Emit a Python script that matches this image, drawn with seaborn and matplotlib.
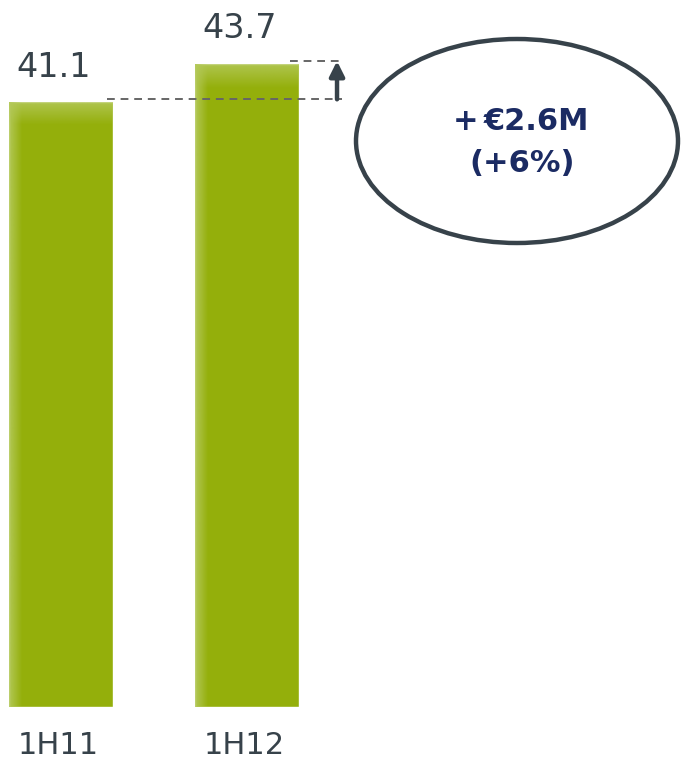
import numpy as np
import matplotlib
matplotlib.use("Agg")
import matplotlib.pyplot as plt
import matplotlib.patches as mpatches
import matplotlib.transforms as mtransforms
import seaborn as sns

categories = ["1H11", "1H12"]
values = [41.1, 43.7]
value_labels = ["41.1", "43.7"]
change_text = ["+€2.6M", "(+6%)"]

BAR = "#94AF0B"
LIGHT = "#B4C95A"
DARK = "#37424A"
NAVY = "#1B2B63"

sns.set_theme(style="white")
plt.rcParams["font.family"] = ["DejaVu Sans"]

W, H = 682, 762
fig = plt.figure(figsize=(W / 100, H / 100), dpi=100)
fig.patch.set_facecolor("white")

# faint background diagonals
fig.add_artist(plt.Line2D([700 / W, 1.05], [0.0, 420 / H], transform=fig.transFigure,
                          color="#F7F7F7", lw=8, zorder=0))
fig.add_artist(plt.Line2D([1080 / W, 1.25], [0.0, 260 / H], transform=fig.transFigure,
                          color="#F7F7F7", lw=8, zorder=0))

ax = fig.add_axes([0, 55 / H, 1, 707 / H])
ax.set_facecolor("none")
bar_w = 104 / 186
sns.barplot(x=categories, y=values, color=BAR, saturation=1, width=bar_w, ax=ax, zorder=2)
ax.set_xlim(-61 / 186, 1 + 435 / 186)
ax.set_ylim(0, 707 / ((707 - 64) / values[1]))
for s in ax.spines.values():
    s.set_visible(False)
ax.set_yticks([])
ax.set_xlabel("")
ax.set_ylabel("")
ax.tick_params(axis="x", length=0, pad=17, labelsize=22, labelcolor=DARK)
shift = mtransforms.ScaledTranslation(-3 / 100, 0, fig.dpi_scale_trans)
for t in ax.get_xticklabels():
    t.set_transform(t.get_transform() + shift)

# soft lighter edges on bars (left and top)
grad = np.linspace(0, 1, 60)
for p in ax.patches:
    x, y = p.get_x(), p.get_y()
    w, h = p.get_width(), p.get_height()
    img = np.zeros((1, 60, 4))
    img[..., :3] = matplotlib.colors.to_rgb(LIGHT)
    img[..., 3] = np.clip(1 - grad / 0.12, 0, 1)[None, :] * 0.9
    im = ax.imshow(img, extent=[x, x + w, y, y + h], aspect="auto", zorder=3,
                   interpolation="bilinear")
    im.set_clip_path(p)
    vgrad = np.linspace(0, 1, 200)
    img2 = np.zeros((200, 1, 4))
    img2[..., :3] = matplotlib.colors.to_rgb(LIGHT)
    img2[:, 0, 3] = np.clip(1 - vgrad / 0.035, 0, 1) * 0.8
    im2 = ax.imshow(img2, extent=[x, x + w, y, y + h], aspect="auto", zorder=3,
                    interpolation="bilinear", origin="upper")
    im2.set_clip_path(p)

# value labels
for i, (v, lab) in enumerate(zip(values, value_labels)):
    ax.annotate(lab, xy=(i, v), xytext=(-5.5, 13.5), textcoords="offset points",
                ha="center", va="bottom", fontsize=24, color=DARK)

# dashed reference lines
ax.plot([bar_w / 2 - 0.03, 1.51], [values[0] + 0.2] * 2, ls=(0, (4, 3)), color="#666666",
        lw=1.4, zorder=4)
ax.plot([1 + bar_w / 2 - 0.05, 1.51], [values[1] + 0.2] * 2, ls=(0, (4, 3)), color="#666666",
        lw=1.4, zorder=4)
ax.annotate("", xy=(1.484, values[1] + 0.2), xytext=(1.484, values[0] + 0.2),
            arrowprops=dict(arrowstyle="-|>", lw=3.2, color=DARK, mutation_scale=22,
                            shrinkA=0, shrinkB=0), zorder=5)

# ellipse callout
ell = mpatches.Ellipse((517 / W, 1 - 141 / H), 322 / W, 204 / H, transform=fig.transFigure,
                       facecolor="white", edgecolor=DARK, lw=3.2, zorder=6)
fig.add_artist(ell)
txt_kw = dict(fontsize=22, fontweight="bold", color=NAVY, zorder=7)
# first line drawn in two pieces to keep a clear gap between "+" and "€"
fig.text(478 / W, 1 - 122 / H, change_text[0][0], ha="right", va="center", **txt_kw)
fig.text(484 / W, 1 - 122 / H, change_text[0][1:], ha="left", va="center", **txt_kw)
fig.text(522 / W, 1 - 163 / H, change_text[1], ha="center", va="center", **txt_kw)

fig.savefig("out.png", dpi=100, facecolor="white")
